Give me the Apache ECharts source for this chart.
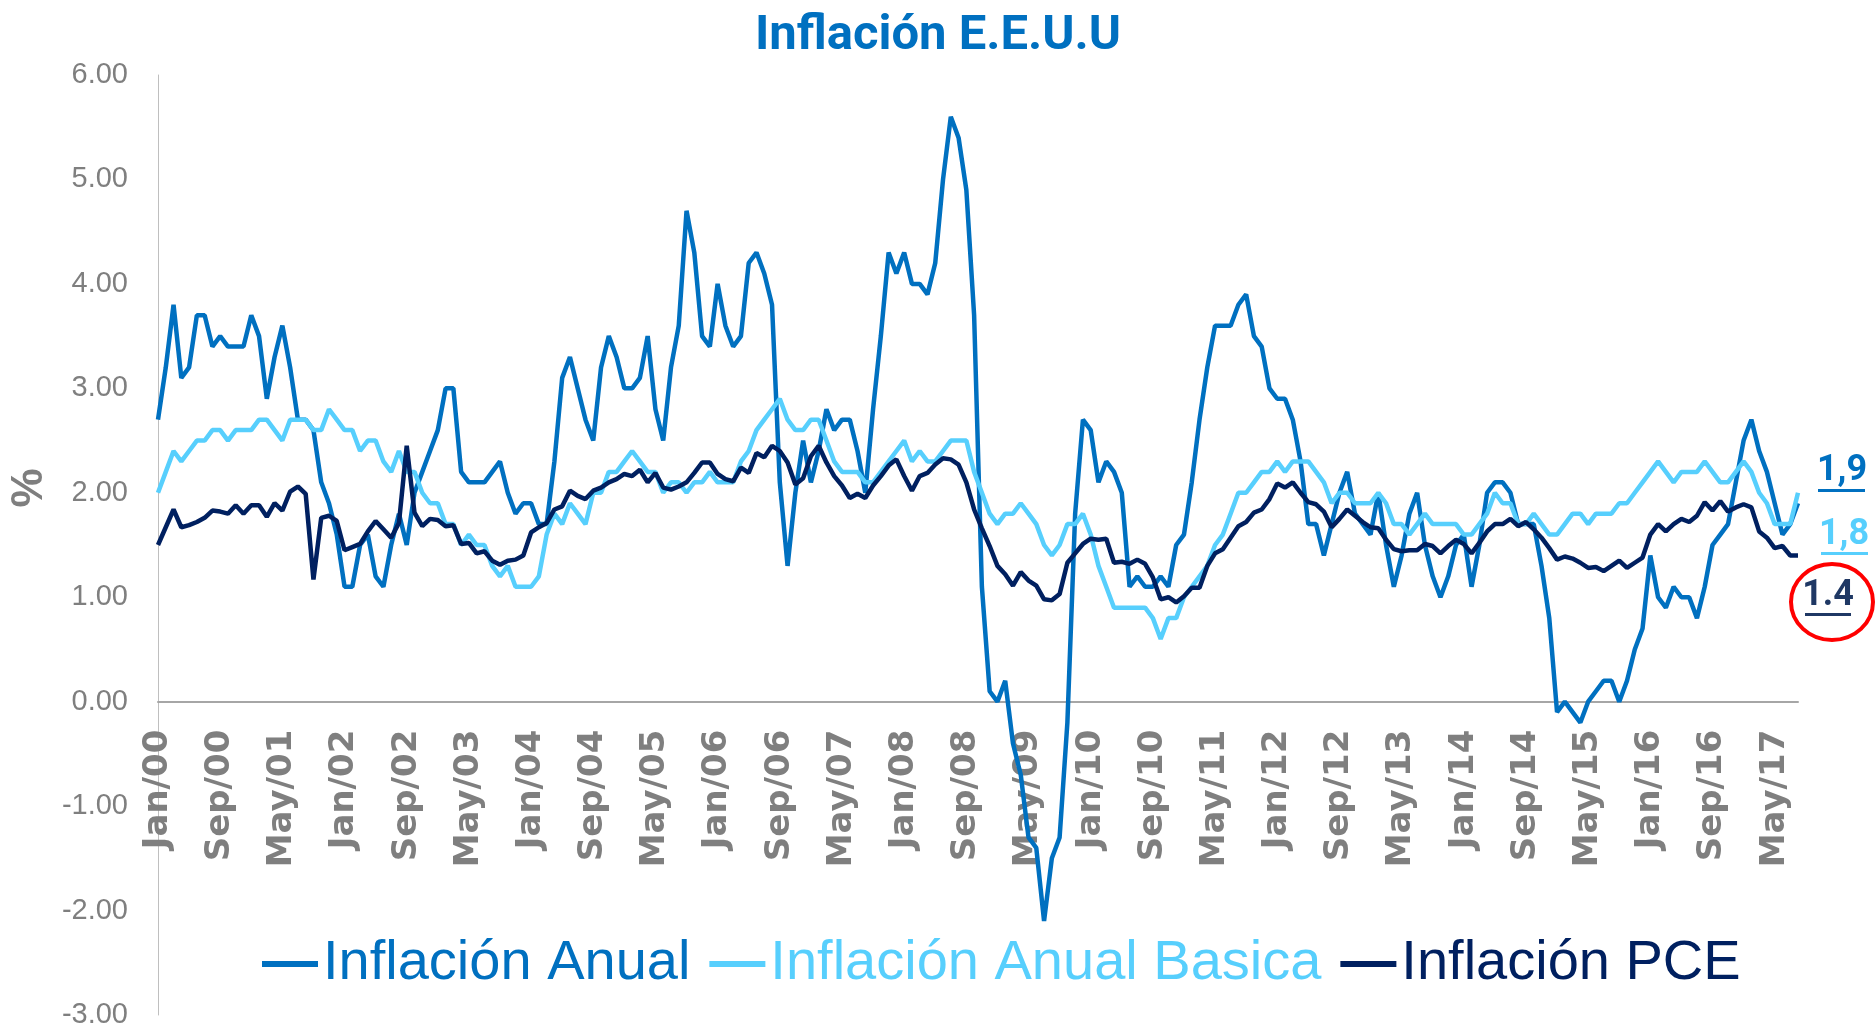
<!DOCTYPE html>
<html>
<head>
<meta charset="utf-8">
<title>Inflación E.E.U.U</title>
<script src="https://cdn.jsdelivr.net/npm/echarts@6/dist/echarts.min.js"></script>
<style>
  html, body { margin: 0; padding: 0; background: #ffffff; }
  #chart { width: 1876px; height: 1034px; }
</style>
</head>
<body>
<div id="chart"></div>
<script>
// ---------------- DATA ----------------
const monthNames = ['Jan','Feb','Mar','Apr','May','Jun','Jul','Aug','Sep','Oct','Nov','Dec'];
const startYear = 2000;

// Inflación Anual (CPI, % a/a)
const inflacionAnual = [
  2.7, 3.2, 3.8, 3.1, 3.2, 3.7, 3.7, 3.4, 3.5, 3.4, 3.4, 3.4,
  3.7, 3.5, 2.9, 3.3, 3.6, 3.2, 2.7, 2.7, 2.6, 2.1, 1.9, 1.6,
  1.1, 1.1, 1.5, 1.6, 1.2, 1.1, 1.5, 1.8, 1.5, 2.0, 2.2, 2.4,
  2.6, 3.0, 3.0, 2.2, 2.1, 2.1, 2.1, 2.2, 2.3, 2.0, 1.8, 1.9,
  1.9, 1.7, 1.7, 2.3, 3.1, 3.3, 3.0, 2.7, 2.5, 3.2, 3.5, 3.3,
  3.0, 3.0, 3.1, 3.5, 2.8, 2.5, 3.2, 3.6, 4.7, 4.3, 3.5, 3.4,
  4.0, 3.6, 3.4, 3.5, 4.2, 4.3, 4.1, 3.8, 2.1, 1.3, 2.0, 2.5,
  2.1, 2.4, 2.8, 2.6, 2.7, 2.7, 2.4, 2.0, 2.8, 3.5, 4.3, 4.1,
  4.3, 4.0, 4.0, 3.9, 4.2, 5.0, 5.6, 5.4, 4.9, 3.7, 1.1, 0.1,
  0.0, 0.2, -0.4, -0.7, -1.3, -1.4, -2.1, -1.5, -1.3, -0.2, 1.8, 2.7,
  2.6, 2.1, 2.3, 2.2, 2.0, 1.1, 1.2, 1.1, 1.1, 1.2, 1.1, 1.5,
  1.6, 2.1, 2.7, 3.2, 3.6, 3.6, 3.6, 3.8, 3.9, 3.5, 3.4, 3.0,
  2.9, 2.9, 2.7, 2.3, 1.7, 1.7, 1.4, 1.7, 2.0, 2.2, 1.8, 1.7,
  1.6, 2.0, 1.5, 1.1, 1.4, 1.8, 2.0, 1.5, 1.2, 1.0, 1.2, 1.5,
  1.6, 1.1, 1.5, 2.0, 2.1, 2.1, 2.0, 1.7, 1.7, 1.7, 1.3, 0.8,
  -0.1, 0.0, -0.1, -0.2, 0.0, 0.1, 0.2, 0.2, 0.0, 0.2, 0.5, 0.7,
  1.4, 1.0, 0.9, 1.1, 1.0, 1.0, 0.8, 1.1, 1.5, 1.6, 1.7, 2.1,
  2.5, 2.7, 2.4, 2.2, 1.9, 1.6, 1.7, 1.9
];

// Inflación Anual Basica (core CPI, % a/a)
const inflacionBasica = [
  2.0, 2.2, 2.4, 2.3, 2.4, 2.5, 2.5, 2.6, 2.6, 2.5, 2.6, 2.6,
  2.6, 2.7, 2.7, 2.6, 2.5, 2.7, 2.7, 2.7, 2.6, 2.6, 2.8, 2.7,
  2.6, 2.6, 2.4, 2.5, 2.5, 2.3, 2.2, 2.4, 2.2, 2.2, 2.0, 1.9,
  1.9, 1.7, 1.7, 1.5, 1.6, 1.5, 1.5, 1.3, 1.2, 1.3, 1.1, 1.1,
  1.1, 1.2, 1.6, 1.8, 1.7, 1.9, 1.8, 1.7, 2.0, 2.0, 2.2, 2.2,
  2.3, 2.4, 2.3, 2.2, 2.2, 2.0, 2.1, 2.1, 2.0, 2.1, 2.1, 2.2,
  2.1, 2.1, 2.1, 2.3, 2.4, 2.6, 2.7, 2.8, 2.9, 2.7, 2.6, 2.6,
  2.7, 2.7, 2.5, 2.3, 2.2, 2.2, 2.2, 2.1, 2.1, 2.2, 2.3, 2.4,
  2.5, 2.3, 2.4, 2.3, 2.3, 2.4, 2.5, 2.5, 2.5, 2.2, 2.0, 1.8,
  1.7, 1.8, 1.8, 1.9, 1.8, 1.7, 1.5, 1.4, 1.5, 1.7, 1.7, 1.8,
  1.6, 1.3, 1.1, 0.9, 0.9, 0.9, 0.9, 0.9, 0.8, 0.6, 0.8, 0.8,
  1.0, 1.1, 1.2, 1.3, 1.5, 1.6, 1.8, 2.0, 2.0, 2.1, 2.2, 2.2,
  2.3, 2.2, 2.3, 2.3, 2.3, 2.2, 2.1, 1.9, 2.0, 2.0, 1.9, 1.9,
  1.9, 2.0, 1.9, 1.7, 1.7, 1.6, 1.7, 1.8, 1.7, 1.7, 1.7, 1.7,
  1.6, 1.6, 1.7, 1.8, 2.0, 1.9, 1.9, 1.7, 1.7, 1.8, 1.7, 1.6,
  1.6, 1.7, 1.8, 1.8, 1.7, 1.8, 1.8, 1.8, 1.9, 1.9, 2.0, 2.1,
  2.2, 2.3, 2.2, 2.1, 2.2, 2.2, 2.2, 2.3, 2.2, 2.1, 2.1, 2.2,
  2.3, 2.2, 2.0, 1.9, 1.7, 1.7, 1.7, 2.0
];

// Inflación PCE (% a/a)
const inflacionPCE = [
  1.50, 1.67, 1.84, 1.67, 1.69, 1.72, 1.76, 1.83, 1.82, 1.80, 1.88, 1.80,
  1.88, 1.88, 1.77, 1.90, 1.83, 2.01, 2.06, 1.99, 1.17, 1.76, 1.78, 1.73,
  1.45, 1.48, 1.51, 1.63, 1.73, 1.65, 1.57, 1.71, 2.45, 1.81, 1.68, 1.75,
  1.74, 1.68, 1.69, 1.51, 1.52, 1.42, 1.44, 1.35, 1.31, 1.35, 1.36, 1.40,
  1.62, 1.67, 1.71, 1.84, 1.87, 2.02, 1.97, 1.94, 2.02, 2.05, 2.10, 2.13,
  2.18, 2.16, 2.22, 2.10, 2.19, 2.05, 2.03, 2.06, 2.10, 2.19, 2.29, 2.29,
  2.18, 2.13, 2.11, 2.24, 2.19, 2.38, 2.34, 2.45, 2.40, 2.29, 2.08, 2.14,
  2.35, 2.45, 2.29, 2.16, 2.07, 1.95, 1.99, 1.95, 2.07, 2.16, 2.26, 2.32,
  2.16, 2.02, 2.16, 2.19, 2.27, 2.33, 2.32, 2.27, 2.10, 1.84, 1.66, 1.49,
  1.30, 1.22, 1.11, 1.24, 1.16, 1.11, 0.98, 0.97, 1.03, 1.33, 1.42, 1.51,
  1.56, 1.55, 1.56, 1.33, 1.34, 1.32, 1.36, 1.32, 1.19, 0.98, 1.00, 0.95,
  1.01, 1.09, 1.09, 1.30, 1.42, 1.46, 1.57, 1.68, 1.72, 1.81, 1.84, 1.94,
  2.09, 2.05, 2.10, 2.00, 1.91, 1.89, 1.82, 1.67, 1.75, 1.84, 1.78, 1.72,
  1.67, 1.66, 1.55, 1.46, 1.44, 1.45, 1.45, 1.51, 1.49, 1.42, 1.49, 1.55,
  1.51, 1.42, 1.52, 1.63, 1.70, 1.70, 1.75, 1.68, 1.72, 1.65, 1.57, 1.47,
  1.36, 1.39, 1.37, 1.33, 1.28, 1.29, 1.25, 1.30, 1.35, 1.28, 1.33, 1.38,
  1.60, 1.70, 1.63, 1.70, 1.75, 1.72, 1.78, 1.91, 1.83, 1.92, 1.82, 1.86,
  1.89, 1.86, 1.63, 1.57, 1.47, 1.49, 1.40, 1.40
];

// Latest values shown at the right
const ultimoAnual = '1,9';
const ultimoBasica = '1,8';
const ultimoPCE = '1.4';

// Y-axis range
const yMin = -3, yMax = 6, yStep = 1;

// Category labels Jan/00 ... Aug/17, one label every 8 months
const labelEvery = 8;
const categories = [];
for (let k = 0; k < inflacionAnual.length; k++) {
  const y = startYear + Math.floor(k / 12);
  categories.push(monthNames[k % 12] + '/' + String(y % 100).padStart(2, '0'));
}

// ---------------- LAYOUT ----------------
const W = 1876, H = 1034;
const gridLeft = 158, gridRight = 78, gridTop = 75, gridBottom = 19;
const plotH = H - gridTop - gridBottom;
// the category axis sits where the value axis crosses 0
const zeroOffset = -plotH * (0 - yMin) / (yMax - yMin);

const cAnual = '#0070C0';
const cBasica = '#57CFFD';
const cPCE = '#002060';
const cNote3 = '#1F3864';
const gray = '#7F7F7F';
const SANS = '"Liberation Sans", Arial, sans-serif';
const TITLEF = 'Roboto, "Liberation Sans", Arial, sans-serif';

// ---------------- CHART ----------------
const chart = echarts.init(document.getElementById('chart'), null, { renderer: 'canvas' });

const noteText = function (x, y, txt, color) {
  return {
    type: 'text', x: x, y: y, z: 10,
    style: {
      text: txt, fill: color, fontFamily: TITLEF, fontWeight: 'bold', fontSize: 36,
      textAlign: 'center', textVerticalAlign: 'middle', align: 'center', verticalAlign: 'middle'
    }
  };
};

const option = {
  animation: false,
  backgroundColor: '#ffffff',
  title: {
    text: 'Inflación E.E.U.U',
    left: 'center',
    top: 7,
    textStyle: {
      color: cAnual,
      fontFamily: TITLEF,
      fontWeight: 'bold',
      fontSize: 49
    }
  },
  legend: {
    left: 257,
    top: 931,
    icon: 'rect',
    itemWidth: 56,
    itemHeight: 6,
    itemGap: 19,
    textStyle: { fontFamily: SANS, fontSize: 56 },
    data: [
      { name: 'Inflación Anual', textStyle: { color: cAnual } },
      { name: 'Inflación Anual Basica', textStyle: { color: cBasica } },
      { name: 'Inflación PCE', textStyle: { color: cPCE } }
    ]
  },
  grid: {
    left: gridLeft,
    right: gridRight,
    top: gridTop,
    bottom: gridBottom,
    containLabel: false,
    outerBoundsMode: 'none'
  },
  xAxis: {
    type: 'category',
    data: categories,
    boundaryGap: false,
    position: 'bottom',
    offset: zeroOffset,
    axisLine: { onZero: false, lineStyle: { color: '#A6A6A6', width: 2 } },
    axisTick: { show: false },
    splitLine: { show: false },
    axisLabel: {
      show: true,
      interval: function (index) { return index % labelEvery === 0; },
      rotate: 90,
      margin: 28,
      hideOverlap: false,
      color: gray,
      fontFamily: '"DejaVu Sans", sans-serif',
      fontWeight: 'bold',
      fontSize: 34
    }
  },
  yAxis: {
    type: 'value',
    min: yMin,
    max: yMax,
    interval: yStep,
    axisLine: { show: true, lineStyle: { color: '#BFBFBF', width: 1 } },
    axisTick: { show: false },
    splitLine: { show: false },
    axisLabel: {
      formatter: function (v) { return v.toFixed(2); },
      color: gray,
      margin: 30,
      fontFamily: SANS,
      fontSize: 29
    }
  },
  series: [
    {
      name: 'Inflación Anual', type: 'line', data: inflacionAnual,
      showSymbol: false, symbol: 'none', color: cAnual,
      lineStyle: { color: cAnual, width: 4.5 }, z: 2
    },
    {
      name: 'Inflación Anual Basica', type: 'line', data: inflacionBasica,
      showSymbol: false, symbol: 'none', color: cBasica,
      lineStyle: { color: cBasica, width: 4.5 }, z: 3
    },
    {
      name: 'Inflación PCE', type: 'line', data: inflacionPCE,
      showSymbol: false, symbol: 'none', color: cPCE,
      lineStyle: { color: cPCE, width: 4.5 }, z: 4
    }
  ],
  graphic: [
    {
      type: 'text', x: 30, y: 488, rotation: Math.PI / 2,
      style: {
        text: '%', fill: gray, fontFamily: SANS,
        fontWeight: 'bold', fontSize: 44,
        textAlign: 'center', textVerticalAlign: 'middle', align: 'center', verticalAlign: 'middle'
      }
    },
    noteText(1842, 471, ultimoAnual, cAnual),
    { type: 'rect', shape: { x: 1818, y: 489, width: 47, height: 3 }, style: { fill: cAnual } },
    noteText(1844, 535, ultimoBasica, cBasica),
    { type: 'rect', shape: { x: 1821, y: 552, width: 47, height: 3 }, style: { fill: cBasica } },
    noteText(1828, 596, ultimoPCE, cNote3),
    { type: 'rect', shape: { x: 1805, y: 613, width: 46, height: 3 }, style: { fill: cNote3 } },
    {
      type: 'ellipse', shape: { cx: 1832, cy: 602, rx: 41, ry: 38 },
      style: { fill: 'none', stroke: '#FF0000', lineWidth: 4 }
    }
  ]
};

chart.setOption(option);
</script>
</body>
</html>
